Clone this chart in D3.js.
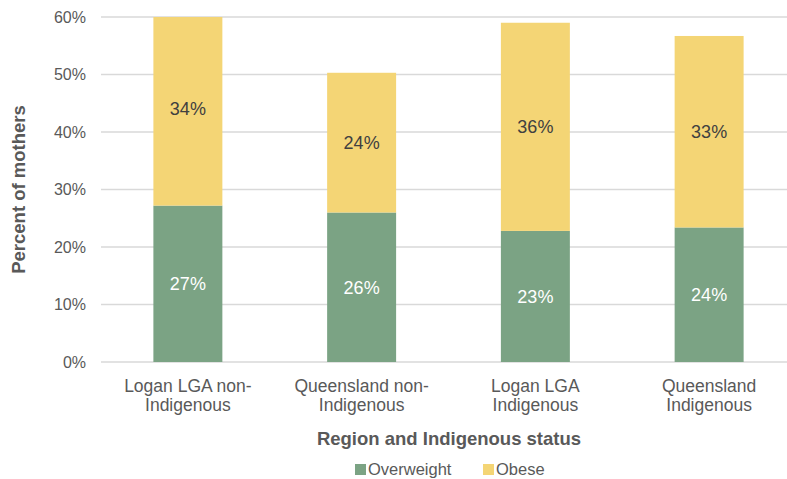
<!DOCTYPE html>
<html>
<head>
<meta charset="utf-8">
<script src="https://cdn.jsdelivr.net/npm/d3@7"></script>
<style>
  body { margin: 0; background: #fff; }
  svg { display: block; font-family: "Liberation Sans", Arial, sans-serif; }
</style>
</head>
<body>
<svg id="chart" width="787" height="479"></svg>
<script>
"use strict";
// data
const categories = [["Logan LGA non-", "Indigenous"], ["Queensland non-", "Indigenous"], ["Logan LGA", "Indigenous"], ["Queensland", "Indigenous"]];
const overweight = [27.2, 26.0, 22.8, 23.4];
const obese = [33.8, 24.3, 36.2, 33.3];
const overweightLabels = ["27%", "26%", "23%", "24%"];
const obeseLabels = ["34%", "24%", "36%", "33%"];
const yTicks = [0, 10, 20, 30, 40, 50, 60];
const seriesNames = ["Overweight", "Obese"];
const colors = ["#7BA384", "#F4D575"];

const svg = d3.select("#chart");
const textColor = "#595959";

const x = d3.scaleBand().domain(d3.range(categories.length)).range([101, 796])
  .paddingInner(0.603).paddingOuter(0.3015);
const y = d3.scaleLinear().domain([0, 60]).range([362, 17]);

// gridlines
svg.append("g").selectAll("line").data(yTicks).join("line")
  .attr("x1", 101).attr("x2", 787)
  .attr("y1", d => y(d)).attr("y2", d => y(d))
  .attr("stroke", "#D9D9D9").attr("stroke-width", 1.3);

// y tick labels
svg.append("g").selectAll("text").data(yTicks).join("text")
  .attr("x", 86).attr("y", d => y(d)).attr("dy", "0.35em")
  .attr("text-anchor", "end").attr("font-size", 16).attr("fill", textColor)
  .text(d => d + "%");

svg.append("clipPath").attr("id", "plotClip").append("rect")
  .attr("x", 101).attr("y", y(60)).attr("width", 695).attr("height", y(0) - y(60));

// stacked bars
const rows = categories.map((c, i) => ({i, ow: overweight[i], ob: obese[i]}));
const bars = svg.append("g").attr("clip-path", "url(#plotClip)");
bars.selectAll("rect.ow").data(rows).join("rect").attr("class", "ow")
  .attr("x", d => x(d.i)).attr("width", x.bandwidth())
  .attr("y", d => y(d.ow)).attr("height", d => y(0) - y(d.ow))
  .attr("fill", colors[0]);
bars.selectAll("rect.ob").data(rows).join("rect").attr("class", "ob")
  .attr("x", d => x(d.i)).attr("width", x.bandwidth())
  .attr("y", d => y(d.ow + d.ob)).attr("height", d => y(d.ow) - y(d.ow + d.ob))
  .attr("fill", colors[1]);

// data labels
const labels = svg.append("g").attr("font-size", 18).attr("text-anchor", "middle");
labels.selectAll("text.ow").data(rows).join("text").attr("class", "ow")
  .attr("x", d => x(d.i) + x.bandwidth() / 2).attr("y", d => y(d.ow / 2)).attr("dy", "0.35em")
  .attr("fill", "#fff").text(d => overweightLabels[d.i]);
labels.selectAll("text.ob").data(rows).join("text").attr("class", "ob")
  .attr("x", d => x(d.i) + x.bandwidth() / 2).attr("y", d => y(d.ow + d.ob / 2)).attr("dy", "0.35em")
  .attr("fill", "#404040").text(d => obeseLabels[d.i]);

// category labels
const cat = svg.append("g").attr("font-size", 17.5).attr("fill", textColor).attr("text-anchor", "middle");
categories.forEach((lines, i) => {
  lines.forEach((line, j) => {
    cat.append("text").attr("x", x(i) + x.bandwidth() / 2).attr("y", 392 + j * 18.5).text(line);
  });
});

// axis titles
svg.append("text").attr("x", 449).attr("y", 445).attr("text-anchor", "middle")
  .attr("font-size", 18.5).attr("font-weight", "bold").attr("fill", textColor)
  .text("Region and Indigenous status");
svg.append("text").attr("transform", `translate(25,${(y(0) + y(60)) / 2}) rotate(-90)`)
  .attr("text-anchor", "middle").attr("font-size", 18.5).attr("font-weight", "bold").attr("fill", textColor)
  .text("Percent of mothers");

// legend
const legendX = [355, 483];
const legend = svg.append("g").selectAll("g").data(seriesNames).join("g")
  .attr("transform", (d, i) => `translate(${legendX[i]},0)`);
legend.append("rect").attr("x", 0).attr("y", 464).attr("width", 11).attr("height", 11)
  .attr("fill", (d, i) => colors[i]);
legend.append("text").attr("x", 13).attr("y", 475).attr("font-size", 16.5).attr("fill", textColor)
  .text(d => d);
</script>
</body>
</html>
